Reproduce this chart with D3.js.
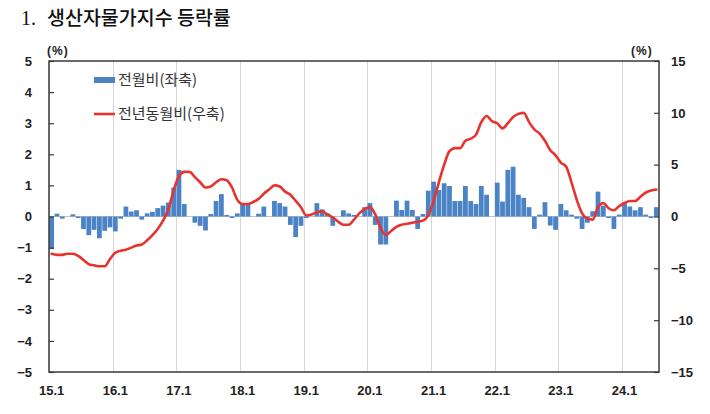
<!DOCTYPE html>
<html><head><meta charset="utf-8">
<script src="https://cdn.jsdelivr.net/npm/d3@7/dist/d3.min.js"></script>
<style>
html,body{margin:0;padding:0;background:#fff;}
svg{display:block;}
</style></head>
<body><svg id="chart" width="710" height="414"></svg>
<script>
// ---- data ----
const years = ["15","16","17","18","19","20","21","22","23","24"];
const lastYearMonths = 7; // 2024.1 ~ 2024.7
const months = [];
years.forEach((y, yi) => {
  const n = yi === years.length - 1 ? lastYearMonths : 12;
  for (let m = 1; m <= n; m++) months.push(y + "." + m);
});
// 전월비 (좌축, %)
const momValues = [
  -1.05, 0.09, -0.07, 0.0, 0.07, -0.05, -0.4, -0.6, -0.43, -0.7, -0.46, -0.35,
  -0.48, -0.07, 0.32, 0.16, 0.2, -0.1, 0.1, 0.15, 0.27, 0.35, 0.45, 0.93,
  1.5, 0.4, 0.0, -0.2, -0.3, -0.45, 0.08, 0.5, 0.72, 0.05, -0.05, 0.1,
  0.4, 0.37, 0.0, 0.09, 0.32, 0.0, 0.5, 0.43, 0.32, -0.27, -0.66, -0.3,
  -0.05, 0.0, 0.43, 0.23, 0.1, -0.3, 0.0, 0.2, 0.1, 0.05, 0.0, 0.3,
  0.43, -0.27, -0.9, -0.9, 0.0, 0.51, 0.21, 0.51, 0.21, -0.4, 0.08, 0.83,
  1.12, 0.85, 1.07, 0.98, 0.5, 0.5, 0.98, 0.5, 0.4, 0.98, 0.7, 0.0,
  1.09, 0.48, 1.5, 1.6, 0.7, 0.6, 0.3, -0.4, 0.06, 0.46, -0.29, -0.43,
  0.4, 0.2, 0.06, -0.07, -0.4, -0.2, 0.17, 0.8, 0.35, -0.05, -0.4, 0.06,
  0.46, 0.32, 0.2, 0.3, 0.06, -0.05, 0.3
];
// 전년동월비 (우축, %)
const yoyValues = [
  -3.6, -3.7, -3.7, -3.6, -3.6, -3.8, -4.2, -4.6, -4.7, -4.8, -4.8, -4.1,
  -3.5, -3.3, -3.2, -3.0, -2.8, -2.7, -2.3, -1.8, -1.2, -0.4, 0.7, 2.5,
  3.9, 4.3, 4.3, 3.8, 3.3, 2.8, 2.9, 3.3, 3.6, 3.5, 2.8, 1.6,
  1.2, 1.2, 1.4, 1.7, 2.2, 2.6, 3.0, 2.9, 2.4, 2.1, 1.5, 0.9,
  0.1, 0.2, 0.4, 0.5, 0.2, -0.1, -0.5, -0.8, -0.8, -0.3, 0.3, 0.7,
  0.9, 0.2, -1.1, -1.8, -1.4, -1.0, -0.8, -0.7, -0.6, -0.5, -0.4, 0.1,
  1.5, 3.3, 5.0, 6.3, 6.6, 6.6, 7.3, 7.5, 7.9, 9.1, 9.7, 9.2,
  9.0, 8.5, 9.0, 9.6, 9.9, 10.0, 9.1, 8.4, 8.0, 7.3, 6.4, 5.9,
  5.2, 4.8, 3.3, 1.6, 0.3, -0.2, -0.3, 0.9, 1.3, 0.8, 0.6, 1.0,
  1.3, 1.5, 1.5, 1.9, 2.3, 2.5, 2.6
];
const xTickLabels = ["15.1","16.1","17.1","18.1","19.1","20.1","21.1","22.1","23.1","24.1"];
const leftTicks = [5,4,3,2,1,0,-1,-2,-3,-4,-5];
const rightTicks = [15,10,5,0,-5,-10,-15];
const legendLabels = ["전월비(좌축)", "전년동월비(우축)"];
const titleNum = "1.";
const titleText = "생산자물가지수 등락률";

// ---- layout ----
const L = 49, R = 659, T = 61, B = 372;
const barColor = "#4a84c7", lineColor = "#e8322e", axisColor = "#3a3a3a";
const numFont = "'Liberation Sans', Arial, sans-serif";
const krFont = "'Noto Sans CJK KR', 'Noto Sans', sans-serif";

const svg = d3.select("#chart");

const x = d3.scaleBand().domain(months).range([L, R]).paddingInner(0.1).paddingOuter(0.05);
const step = (R - L) / months.length;
const xPos = d3.scaleBand().domain(months).range([L, R]).padding(0);
const yL = d3.scaleLinear().domain([-5, 5]).range([B, T]);
const yR = d3.scaleLinear().domain([-15, 15]).range([B, T]);

// vertical gridlines at January
svg.append("g").selectAll("line").data(xTickLabels).join("line")
  .attr("x1", d => Math.round(xPos(d)) + 0.5).attr("x2", d => Math.round(xPos(d)) + 0.5)
  .attr("y1", T).attr("y2", B)
  .attr("stroke", "#d6d6d6").attr("stroke-width", 1);

// zero line
svg.append("line").attr("x1", L).attr("x2", R).attr("y1", yL(0)).attr("y2", yL(0))
  .attr("stroke", "#c4c4c4").attr("stroke-width", 1);

// bars
svg.append("g").selectAll("rect").data(momValues).join("rect")
  .attr("x", (d, i) => x(months[i]))
  .attr("width", x.bandwidth())
  .attr("y", d => yL(Math.max(0, d)))
  .attr("height", d => Math.abs(yL(d) - yL(0)))
  .attr("fill", barColor);

// line
const line = d3.line()
  .x((d, i) => xPos(months[i]) + xPos.bandwidth() / 2)
  .y(d => yR(d))
  .curve(d3.curveMonotoneX);
svg.append("path").datum(yoyValues).attr("d", line)
  .attr("fill", "none").attr("stroke", lineColor).attr("stroke-width", 2.6)
  .attr("stroke-linejoin", "round").attr("stroke-linecap", "round");

// frame
svg.append("rect").attr("x", L).attr("y", T).attr("width", R - L).attr("height", B - T)
  .attr("fill", "none").attr("stroke", axisColor).attr("stroke-width", 1.5);

// left axis
const leftAxis = d3.axisLeft(yL).tickValues(leftTicks).tickSize(-5).tickPadding(17).tickFormat(d3.format("d"));
const gL = svg.append("g").attr("transform", `translate(${L},0)`).call(leftAxis);
gL.select(".domain").remove();
gL.selectAll(".tick line").attr("stroke", axisColor).attr("stroke-width", 1.2);
gL.selectAll(".tick text").attr("font-family", numFont).attr("font-weight", "bold")
  .attr("font-size", 13).attr("fill", "#222");

// right axis
const rightAxis = d3.axisRight(yR).tickValues(rightTicks).tickSize(-5).tickPadding(12).tickFormat(d3.format("d"));
const gR = svg.append("g").attr("transform", `translate(${R},0)`).call(rightAxis);
gR.select(".domain").remove();
gR.selectAll(".tick line").attr("stroke", axisColor).attr("stroke-width", 1.2);
gR.selectAll(".tick text").attr("font-family", numFont).attr("font-weight", "bold")
  .attr("font-size", 13).attr("fill", "#222");

// bottom axis labels
const bottomAxis = d3.axisBottom(xPos).tickValues(xTickLabels).tickSize(0).tickPadding(14);
const gB = svg.append("g").attr("transform", `translate(0,${B})`).call(bottomAxis);
gB.select(".domain").remove();
gB.selectAll(".tick text").attr("font-family", numFont).attr("font-weight", "bold")
  .attr("font-size", 13).attr("fill", "#222");

// unit labels
svg.append("text").attr("x", 47).attr("y", 55).text("(%)")
  .attr("font-family", numFont).attr("font-weight", "bold").attr("font-size", 12)
  .attr("letter-spacing", 1).attr("fill", "#222");
svg.append("text").attr("x", 631).attr("y", 55).text("(%)")
  .attr("font-family", numFont).attr("font-weight", "bold").attr("font-size", 12)
  .attr("letter-spacing", 1).attr("fill", "#222");

// legend
const lg = svg.append("g");
lg.append("rect").attr("x", 94).attr("y", 77).attr("width", 21).attr("height", 6).attr("fill", barColor);
lg.append("text").attr("x", 118).attr("y", 80).attr("dy", "0.36em").text(legendLabels[0])
  .attr("font-family", krFont).attr("font-size", 15).attr("fill", "#333");
lg.append("line").attr("x1", 94).attr("x2", 115).attr("y1", 114).attr("y2", 114)
  .attr("stroke", lineColor).attr("stroke-width", 2.6);
lg.append("text").attr("x", 118).attr("y", 114).attr("dy", "0.36em").text(legendLabels[1])
  .attr("font-family", krFont).attr("font-size", 15).attr("fill", "#333");

// title
svg.append("text").attr("x", 21).attr("y", 25).text(titleNum)
  .attr("font-family", "'Liberation Serif', serif").attr("font-size", 20).attr("fill", "#111");
svg.append("text").attr("x", 47).attr("y", 25).text(titleText)
  .attr("font-family", krFont).attr("font-weight", 500).attr("font-size", 19.5).attr("fill", "#111");
</script>
</body></html>
